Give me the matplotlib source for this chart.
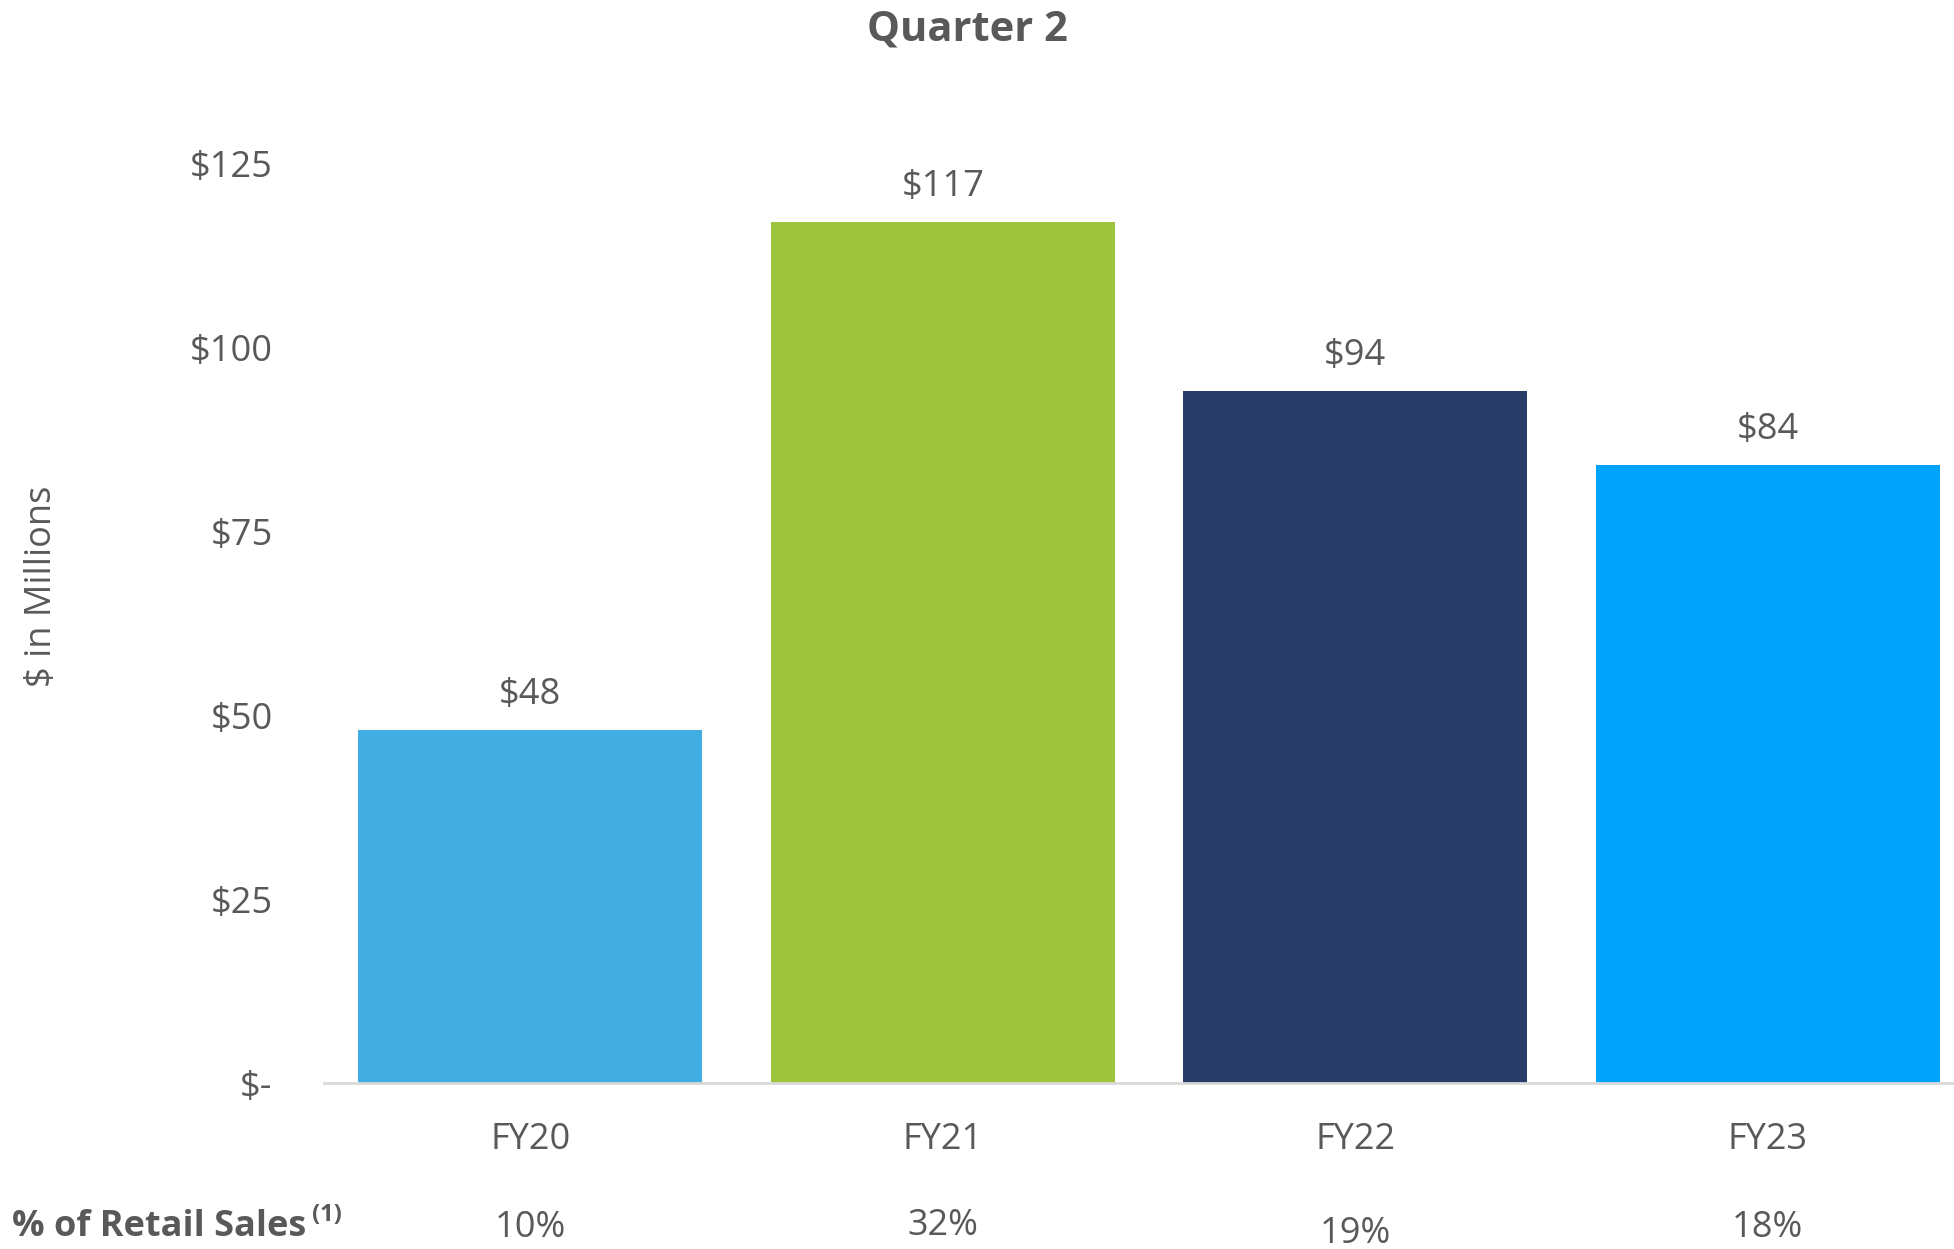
import matplotlib
matplotlib.use("Agg")
import matplotlib.pyplot as plt
from matplotlib.transforms import blended_transform_factory

plt.rcParams['font.family'] = ['Open Sans', 'DejaVu Sans']

# ---- data ----
categories = ["FY20", "FY21", "FY22", "FY23"]
values = [48, 117, 94, 84]
pct_retail = [10, 32, 19, 18]
yticks = [0, 25, 50, 75, 100, 125]
ytick_labels = ["$-", "$25", "$50", "$75", "$100", "$125"]
title = "Quarter 2"
ylabel = "$ in Millions"
row_label = "% of Retail Sales"

# ---- style ----
bar_colors = ["#42ADE0", "#9DC43C", "#283C6A", "#00A4FC"]
text_color = "#595959"
fs = 26

fig = plt.figure(figsize=(19.54, 12.49), dpi=100)
ax = fig.add_axes([324/1954, 1 - 1083/1249, 1650/1954, (1083-163)/1249])

x = list(range(len(categories)))
bars = ax.bar(x, values, width=0.834, color=bar_colors, zorder=2)
ax.set_xlim(-0.5, len(categories) - 0.5)
ax.set_ylim(0, 125)

for xi, v in zip(x, values):
    ax.annotate(f"${v}", (xi, v), xytext=(0, 12), textcoords="offset points",
                ha="center", va="bottom", fontsize=fs, color=text_color)

ax.set_yticks(yticks)
ax.set_yticklabels(ytick_labels, fontsize=fs, color=text_color)
ax.set_xticks(x)
ax.set_xticklabels(categories, fontsize=fs, color=text_color)
ax.tick_params(axis="both", length=0)
ax.tick_params(axis="y", pad=37)
ax.tick_params(axis="x", pad=28)

for s in ["top", "right", "left"]:
    ax.spines[s].set_visible(False)
ax.spines["bottom"].set_color("#D9D9D9")
ax.spines["bottom"].set_linewidth(2)

fig.text(967/1954, 1 - 30/1249, title, ha="center", va="center",
         fontsize=30, fontweight="bold", color=text_color)
fig.text(42/1954, 1 - 586/1249, ylabel, ha="center", va="center",
         rotation=90, fontsize=fs, color=text_color)

fig.text(12/1954, 1 - 1227/1249, row_label, ha="left", va="center",
         fontsize=26, fontweight="bold", color=text_color)
fig.text(312/1954, 1 - 1215/1249, "(1)", ha="left", va="center",
         fontsize=17, fontweight="bold", color=text_color)

trans = blended_transform_factory(ax.transData, fig.transFigure)
y_offsets = [0, -2, 6, 0]
for xi, p, dy in zip(x, pct_retail, y_offsets):
    ax.text(xi, 1 - (1228 + dy)/1249, f"{p}%", transform=trans, ha="center",
            va="center", fontsize=fs, color=text_color, clip_on=False)

fig.savefig("out.png", dpi=100)
